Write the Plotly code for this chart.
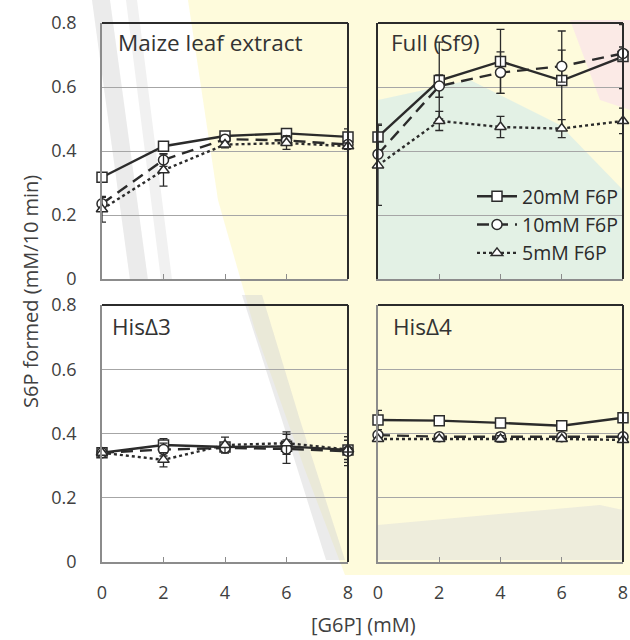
import plotly.graph_objects as go

# ---------------- data ----------------
x_g6p = [0, 2, 4, 6, 8]
series_names = ["20mM F6P", "10mM F6P", "5mM F6P"]
panel_titles = ["Maize leaf extract", "Full (Sf9)", "HisΔ3", "HisΔ4"]
y_ticks = [0, 0.2, 0.4, 0.6, 0.8]
y_tick_labels = ["0", "0.2", "0.4", "0.6", "0.8"]
x_tick_labels = ["0", "2", "4", "6", "8"]

maize_20 = [0.318, 0.415, 0.447, 0.455, 0.444]
maize_10 = [0.235, 0.372, 0.437, 0.433, 0.420]
maize_5 = [0.218, 0.340, 0.420, 0.425, 0.415]
maize_20_err = [0.005, 0.005, 0.010, 0.012, 0.025]
maize_10_err = [0.020, 0.020, 0.010, 0.015, 0.010]
maize_5_err = [0.040, 0.050, 0.010, 0.020, 0.010]

full_20 = [0.444, 0.620, 0.680, 0.620, 0.695]
full_10 = [0.390, 0.603, 0.645, 0.665, 0.705]
full_5 = [0.355, 0.494, 0.475, 0.470, 0.494]
full_20_err = [0.040, 0.120, 0.100, 0.155, 0.100]
full_10_err = [0.040, 0.035, 0.065, 0.050, 0.020]
full_5_err = [0.125, 0.030, 0.033, 0.028, 0.040]

his3_20 = [0.340, 0.364, 0.358, 0.360, 0.349]
his3_10 = [0.340, 0.350, 0.355, 0.352, 0.345]
his3_5 = [0.340, 0.318, 0.364, 0.370, 0.350]
his3_20_err = [0.005, 0.020, 0.010, 0.020, 0.030]
his3_10_err = [0.005, 0.020, 0.010, 0.045, 0.045]
his3_5_err = [0.005, 0.022, 0.025, 0.035, 0.040]

his4_20 = [0.442, 0.440, 0.433, 0.424, 0.449]
his4_10 = [0.395, 0.390, 0.390, 0.390, 0.390]
his4_5 = [0.383, 0.383, 0.383, 0.383, 0.380]
his4_20_err = [0.030, 0.005, 0.005, 0.005, 0.005]
his4_10_err = [0.010, 0.005, 0.012, 0.005, 0.005]
his4_5_err = [0.005, 0.005, 0.010, 0.005, 0.005]

panel_values = [
    [(maize_20, maize_20_err), (maize_10, maize_10_err), (maize_5, maize_5_err)],
    [(full_20, full_20_err), (full_10, full_10_err), (full_5, full_5_err)],
    [(his3_20, his3_20_err), (his3_10, his3_10_err), (his3_5, his3_5_err)],
    [(his4_20, his4_20_err), (his4_10, his4_10_err), (his4_5, his4_5_err)],
]

# ---------------- styles ----------------
W, H = 630, 640
FONT = "Open Sans"
INK = "#2b2b2b"
TXT = "#404040"
GRID = "#a6a6a6"
AXIS = "#8c8c8c"

def px(x):
    return x / W

def py(y):
    return 1 - y / H

# panel plot areas in page pixels (left, top, right, bottom)
boxes = [(102, 23, 348, 279), (378, 23, 623, 279),
         (102, 305, 348, 562), (378, 305, 623, 562)]

styles = [
    dict(dash="solid", symbol="square"),
    dict(dash="12px,7px", symbol="circle"),
    dict(dash="dot", symbol="triangle-up"),
]

fig = go.Figure()

for p, series in enumerate(panel_values):
    xa = "x" if p == 0 else f"x{p+1}"
    ya = "y" if p == 0 else f"y{p+1}"
    for s, (vals, errs) in enumerate(series):
        st = styles[s]
        fig.add_trace(go.Scatter(
            x=x_g6p, y=vals, xaxis=xa, yaxis=ya,
            name=series_names[s],
            mode="lines+markers",
            line=dict(color=INK, width=2.4, dash=st["dash"]),
            marker=dict(symbol=st["symbol"], size=10, color="white",
                        line=dict(color=INK, width=1.5)),
            error_y=dict(type="data", array=errs, visible=True,
                         color=INK, thickness=1.3, width=4),
            cliponaxis=False,
            showlegend=(p == 1),
            legendgroup=f"g{s}",
        ))

layout = dict(
    width=W, height=H,
    margin=dict(l=0, r=0, t=0, b=0, autoexpand=False),
    paper_bgcolor="white", plot_bgcolor="rgba(0,0,0,0)",
    font=dict(family=FONT, color=TXT, size=18),
    showlegend=True,
    legend=dict(x=px(472), y=py(177), xanchor="left", yanchor="top",
                bgcolor="rgba(0,0,0,0)", font=dict(size=19.5, color=INK),
                tracegroupgap=0, itemwidth=40),
)

for p, (l, t, r, b) in enumerate(boxes):
    sx = "" if p == 0 else str(p + 1)
    bottom = p >= 2
    layout[f"xaxis{sx}"] = dict(
        domain=[px(l), px(r)], anchor=f"y{sx}" if sx else "y",
        range=[0, 8], tickvals=x_g6p, ticktext=x_tick_labels,
        showticklabels=bottom, ticks="inside", ticklen=5, tickcolor=AXIS,
        showline=True, linecolor=AXIS, linewidth=1.5, showgrid=False,
        zeroline=False, ticklabelstandoff=14, automargin=False,
        tickfont=dict(size=18, color=TXT, family=FONT),
    )
    layout[f"yaxis{sx}"] = dict(
        domain=[py(b), py(t)], anchor=f"x{sx}" if sx else "x",
        range=[0, 0.8], tickvals=y_ticks, ticktext=y_tick_labels,
        showticklabels=(p % 2 == 0), ticks="",
        showline=True, linecolor=(INK if p == 1 else AXIS), linewidth=1.5,
        showgrid=True, gridcolor=GRID, gridwidth=1, zeroline=False,
        ticklabelstandoff=20, automargin=False,
        tickfont=dict(size=18, color=TXT, family=FONT),
    )

fig.update_layout(**layout)

# ------------- watermark-like background tint -------------
def path(points):
    return "M " + " L ".join(f"{px(a):.4f},{py(b):.4f}" for a, b in points) + " Z"

bg_shapes = [
    # pale yellow body
    (path([(188, 0), (630, 0), (630, 575), (345, 575), (305, 470),
           (255, 330), (218, 200)]), "rgba(254,251,218,0.95)"),
    # greenish tint inside Full (Sf9)
    (path([(378, 100), (470, 80), (560, 125), (623, 190), (623, 279),
           (378, 279)]), "rgba(224,240,230,0.9)"),
    # pink corner
    (path([(570, 20), (630, 20), (630, 110), (600, 100)]), "rgba(250,230,232,0.8)"),
    # gray diagonal stripes
    (path([(92, 0), (110, 0), (148, 280), (130, 280)]), "rgba(210,210,210,0.45)"),
    (path([(126, 0), (137, 0), (172, 280), (161, 280)]), "rgba(220,220,220,0.4)"),
    (path([(242, 295), (262, 295), (300, 420), (345, 560), (326, 560),
           (282, 420)]), "rgba(210,210,210,0.45)"),
    (path([(378, 525), (600, 505), (623, 510), (623, 560), (378, 560)]),
     "rgba(220,220,220,0.45)"),
]
shapes = []
for d, c in bg_shapes:
    shapes.append(dict(type="path", path=d, xref="paper", yref="paper",
                       fillcolor=c, line=dict(width=0), layer="below"))

# dark top and right frame lines of each plot area
for (l, t, r, b) in boxes:
    shapes.append(dict(type="line", xref="paper", yref="paper",
                       x0=px(l), x1=px(r), y0=py(t), y1=py(t),
                       line=dict(color=INK, width=2), layer="above"))
    shapes.append(dict(type="line", xref="paper", yref="paper",
                       x0=px(r), x1=px(r), y0=py(t), y1=py(b),
                       line=dict(color=INK, width=2), layer="above"))
fig.update_layout(shapes=shapes)

# panel titles
title_pos = [(116, 43), (389, 43), (110, 326), (391, 326)]
annotations = []
for (tx, ty), txt in zip(title_pos, panel_titles):
    annotations.append(dict(text=txt, x=px(tx), y=py(ty), xref="paper", yref="paper",
                            xanchor="left", yanchor="middle", showarrow=False,
                            font=dict(size=22.5, color="#333333", family=FONT)))
annotations.append(dict(text="S6P formed (mM/10 min)", x=px(30), y=py(292),
                        xref="paper", yref="paper", textangle=-90,
                        xanchor="center", yanchor="middle", showarrow=False,
                        font=dict(size=20, color=TXT, family=FONT)))
annotations.append(dict(text="[G6P] (mM)", x=px(364), y=py(624),
                        xref="paper", yref="paper",
                        xanchor="center", yanchor="middle", showarrow=False,
                        font=dict(size=20, color=TXT, family=FONT)))
fig.update_layout(annotations=annotations)

fig.write_html(
    "out.html",
    config={"displayModeBar": False},
    post_script="document.body.style.margin='0';document.body.style.overflow='hidden';",
)
